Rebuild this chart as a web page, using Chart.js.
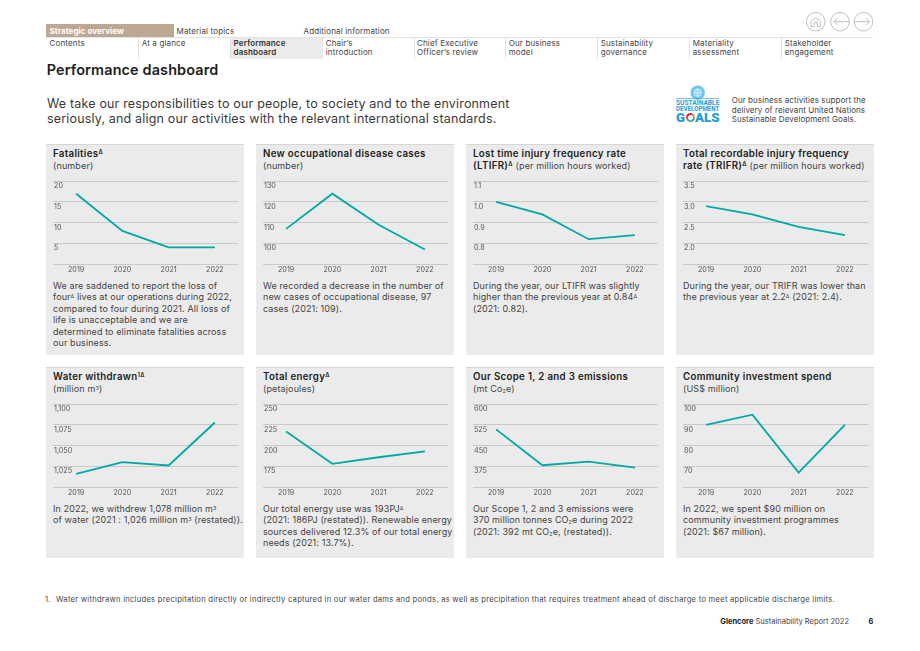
<!DOCTYPE html>
<html>
<head>
<meta charset="utf-8">
<title>Performance dashboard</title>
<script src="https://cdn.jsdelivr.net/npm/chart.js@4/dist/chart.umd.min.js"></script>
<style>
  html, body { margin: 0; padding: 0; background: #fff; }
  body { position: relative; width: 920px; height: 651px; overflow: hidden; font-family: Inter, "Open Sans", sans-serif; color: #333; }
  .t { position: absolute; white-space: nowrap; }
  sup { font-size: 60%; line-height: 0; vertical-align: 0.45em; }
  sub { font-size: 60%; line-height: 0; vertical-align: -0.2em; }

  /* navigation */
  .tab { font-size: 8px; line-height: 13px; top: 24.5px; letter-spacing: 0.15px; color: #444; }
  .nav { font-size: 8px; line-height: 9.6px; top: 38.5px; letter-spacing: 0.15px; color: #444; }
  .sep { position: absolute; top: 38px; width: 1px; height: 20.5px; background: #e2e2e2; }

  /* panels */
  .panel { position: absolute; width: 198px; background: #ebebeb; border-top: 1px solid #d6d6d6; box-sizing: border-box; }
  .r1 { top: 144px; height: 210.5px; }
  .r2 { top: 367px; height: 191px; }
  .head { position: absolute; left: 7px; top: 3px; font-size: 9.7px; line-height: 12.4px; color: #222; font-weight: 600; white-space: nowrap; letter-spacing: 0.32px; }
  .head span { font-weight: 400; font-size: 9px; color: #444; letter-spacing: 0.14px; }
  .body { position: absolute; left: 7px; font-size: 9px; line-height: 11.45px; white-space: nowrap; color: #444; letter-spacing: 0.1px; }
  .r1 .body { top: 135px; }
  .r2 .body { top: 135px; }
  canvas { position: absolute; }
</style>
</head>
<body>

<!-- top navigation -->
<div style="position:absolute;left:46px;top:24px;width:128px;height:13px;background:#bfa893"></div>
<div class="t tab" style="left:49.5px;color:#fff;font-weight:700;letter-spacing:0.05px">Strategic overview</div>
<div class="t tab" style="left:176.5px">Material topics</div>
<div class="t tab" style="left:303.5px">Additional information</div>
<div style="position:absolute;left:46px;top:37px;width:827px;height:1.3px;background:#e4e4e4"></div>
<div style="position:absolute;left:231px;top:38px;width:92px;height:20.5px;background:#ebebeb"></div>
<div class="sep" style="left:138px"></div>
<div class="sep" style="left:230px"></div>
<div class="sep" style="left:322px"></div>
<div class="sep" style="left:414px"></div>
<div class="sep" style="left:505px"></div>
<div class="sep" style="left:597px"></div>
<div class="sep" style="left:689px"></div>
<div class="sep" style="left:781px"></div>
<div class="t nav" style="left:49.5px">Contents</div>
<div class="t nav" style="left:141.7px">At a glance</div>
<div class="t nav" style="left:233.6px;font-weight:600;color:#333">Performance<br>dashboard</div>
<div class="t nav" style="left:325.7px">Chair’s<br>introduction</div>
<div class="t nav" style="left:417px">Chief Executive<br>Officer’s review</div>
<div class="t nav" style="left:508.7px">Our business<br>model</div>
<div class="t nav" style="left:600.7px">Sustainability<br>governance</div>
<div class="t nav" style="left:692.7px">Materiality<br>assessment</div>
<div class="t nav" style="left:784.7px">Stakeholder<br>engagement</div>

<!-- home / back / forward buttons -->
<svg style="position:absolute;left:800px;top:8px" width="80" height="28" fill="none" stroke="#b9b9b9" stroke-width="0.9">
  <circle cx="15.7" cy="13.7" r="9.3"/>
  <path d="M11 13.5 L15.7 9.5 L20.4 13.5 V18.5 H17.3 V14.5 H14.1 V18.5 H11 Z"/>
  <circle cx="40" cy="13.7" r="9.3"/>
  <path d="M34 13.7 H49 M37.8 9.9 L34 13.7 L37.8 17.5"/>
  <circle cx="63.5" cy="13.7" r="9.3"/>
  <path d="M54.5 13.7 H69.5 M65.7 9.9 L69.5 13.7 L65.7 17.5"/>
</svg>

<div class="t" style="left:46.7px;top:61px;font-size:14.4px;line-height:18px;font-weight:600;color:#1d1d1d;letter-spacing:0.15px">Performance dashboard</div>
<div class="t" style="left:47px;top:95.5px;font-size:12.5px;line-height:15px;color:#3a3a3a;letter-spacing:0.17px">We take our responsibilities to our people, to society and to the environment<br>seriously, and align our activities with the relevant international standards.</div>

<!-- SDG mark -->
<svg style="position:absolute;left:675px;top:85px" width="46" height="39">
  <circle cx="22.7" cy="7.7" r="7.2" fill="#6fc6ec"/>
  <g fill="none" stroke="#fff" stroke-width="0.6">
    <circle cx="22.7" cy="7.7" r="3.8"/>
    <ellipse cx="22.7" cy="7.7" rx="1.8" ry="3.8"/>
    <path d="M18.9 7.7 H26.5 M22.7 3.9 V11.5"/>
  </g>
  <rect x="1" y="13" width="43" height="0.6" fill="#1b9dd9"/>
  <text x="1" y="20.4" textLength="43.4" lengthAdjust="spacingAndGlyphs" font-family="Roboto" font-weight="700" font-size="6.8" fill="#1b9dd9">SUSTAINABLE</text>
  <text x="1" y="26.4" textLength="43.4" lengthAdjust="spacingAndGlyphs" font-family="Roboto" font-weight="700" font-size="6.8" fill="#1b9dd9">DEVELOPMENT</text>
  <text x="1" y="37.2" textLength="9" lengthAdjust="spacingAndGlyphs" font-family="Roboto" font-weight="900" font-size="13.5" fill="#1b9dd9">G</text>
  <text x="20" y="37.2" textLength="24.5" lengthAdjust="spacingAndGlyphs" font-family="Roboto" font-weight="900" font-size="13.5" fill="#1b9dd9">ALS</text>
</svg>
<div style="position:absolute;left:685.5px;top:112.5px;width:9.5px;height:9.5px;border-radius:50%;background:radial-gradient(#fff 0 38%,transparent 42%),conic-gradient(#e5243b,#dda63a,#4c9f38,#26bde2,#fd6925,#dd1367,#e5243b)"></div>
<div class="t" style="left:731.7px;top:96.2px;font-size:8px;line-height:9.5px;color:#444;letter-spacing:0.08px">Our business activities support the<br>delivery of relevant United Nations<br>Sustainable Development Goals.</div>

<!-- first row -->
<div class="panel r1" style="left:46px">
  <div class="head">Fatalities<sup>Δ</sup><br><span>(number)</span></div>
  <div class="body">We are saddened to report the loss of<br>four<sup>Δ</sup> lives at our operations during 2022,<br>compared to four during 2021. All loss of<br>life is unacceptable and we are<br>determined to eliminate fatalities across<br>our business.</div>
</div>
<div class="panel r1" style="left:256px">
  <div class="head">New occupational disease cases<br><span>(number)</span></div>
  <div class="body">We recorded a decrease in the number of<br>new cases of occupational disease, 97<br>cases (2021: 109).</div>
</div>
<div class="panel r1" style="left:466px">
  <div class="head">Lost time injury frequency rate<br>(LTIFR)<sup>Δ</sup> <span>(per million hours worked)</span></div>
  <div class="body">During the year, our LTIFR was slightly<br>higher than the previous year at 0.84<sup>Δ</sup><br>(2021: 0.82).</div>
</div>
<div class="panel r1" style="left:676px">
  <div class="head">Total recordable injury frequency<br>rate (TRIFR)<sup>Δ</sup> <span>(per million hours worked)</span></div>
  <div class="body">During the year, our TRIFR was lower than<br>the previous year at 2.2<sup>Δ</sup> (2021: 2.4).</div>
</div>

<!-- second row -->
<div class="panel r2" style="left:46px">
  <div class="head">Water withdrawn<sup>1Δ</sup><br><span>(million m<sup>3</sup>)</span></div>
  <div class="body">In 2022, we withdrew 1,078 million m<sup>3</sup><br>of water (2021 : 1,026 million m<sup>3</sup> (restated)).</div>
</div>
<div class="panel r2" style="left:256px">
  <div class="head">Total energy<sup>Δ</sup><br><span>(petajoules)</span></div>
  <div class="body">Our total energy use was 193PJ<sup>Δ</sup><br>(2021: 186PJ (restated)). Renewable energy<br>sources delivered 12.3% of our total energy<br>needs (2021: 13.7%).</div>
</div>
<div class="panel r2" style="left:466px">
  <div class="head">Our Scope 1, 2 and 3 emissions<br><span>(mt Co<sub>2</sub>e)</span></div>
  <div class="body">Our Scope 1, 2 and 3 emissions were<br>370 million tonnes CO<sub>2</sub>e during 2022<br>(2021: 392 mt CO<sub>2</sub>e, (restated)).</div>
</div>
<div class="panel r2" style="left:676px">
  <div class="head">Community investment spend<br><span>(US$ million)</span></div>
  <div class="body">In 2022, we spent $90 million on<br>community investment programmes<br>(2021: $67 million).</div>
</div>

<canvas id="fatalities" style="left:53px;top:176px"></canvas>
<canvas id="disease" style="left:263px;top:176px"></canvas>
<canvas id="ltifr" style="left:473px;top:176px"></canvas>
<canvas id="trifr" style="left:683px;top:176px"></canvas>
<canvas id="water" style="left:53px;top:399px"></canvas>
<canvas id="energy" style="left:263px;top:399px"></canvas>
<canvas id="emissions" style="left:473px;top:399px"></canvas>
<canvas id="community" style="left:683px;top:399px"></canvas>

<div class="t" style="left:45px;top:595px;font-size:7.6px;line-height:10px;color:#444">1.</div>
<div class="t" style="left:56px;top:595px;font-size:7.6px;line-height:10px;color:#444;letter-spacing:0.27px">Water withdrawn includes precipitation directly or indirectly captured in our water dams and ponds, as well as precipitation that requires treatment ahead of discharge to meet applicable discharge limits.</div>
<div class="t" style="right:71px;top:616.5px;font-size:7.5px;line-height:10px;color:#444"><b style="color:#222;font-weight:700">Glencore</b> Sustainability Report 2022</div>
<div class="t" style="left:868.5px;top:616.5px;font-size:7.5px;line-height:10px;font-weight:700;color:#222">6</div>

<script>
const years = ['2019', '2020', '2021', '2022'];

const fatalities = [17, 8, 4, 4];
const disease = [107, 124, 109, 97];
const ltifr = [1.0, 0.94, 0.82, 0.84];
const trifr = [2.9, 2.7, 2.4, 2.2];
const water = [1016, 1030, 1026, 1078];
const energy = [217, 178, 186, 193];
const emissions = [509, 379, 392, 370];
const community = [90, 95, 67, 90];

// bottom line of each axis carries no label
const fatalitiesTicks = [0, 5, 10, 15, 20];
const diseaseTicks = [90, 100, 110, 120, 130];
const ltifrTicks = [0.7, 0.8, 0.9, 1.0, 1.1];
const trifrTicks = [1.5, 2.0, 2.5, 3.0, 3.5];
const waterTicks = [1000, 1025, 1050, 1075, 1100];
const energyTicks = [150, 175, 200, 225, 250];
const emissionsTicks = [300, 375, 450, 525, 600];
const communityTicks = [60, 70, 80, 90, 100];

const fatalitiesLabels = ['', '5', '10', '15', '20'];
const diseaseLabels = ['', '100', '110', '120', '130'];
const ltifrLabels = ['', '0.8', '0.9', '1.0', '1.1'];
const trifrLabels = ['', '2.0', '2.5', '3.0', '3.5'];
const waterLabels = ['', '1,025', '1,050', '1,075', '1,100'];
const energyLabels = ['', '175', '200', '225', '250'];
const emissionsLabels = ['', '375', '450', '525', '600'];
const communityLabels = ['', '70', '80', '90', '100'];

const tickFont = { family: 'Inter', size: 7.2 };
const tickColor = '#555';

function lineChart(id, values, ticks, labels) {
  const canvas = document.getElementById(id);
  canvas.width = 185;
  canvas.height = 100;
  canvas.style.width = '185px';
  canvas.style.height = '100px';

  new Chart(canvas, {
    type: 'line',
    data: {
      labels: years,
      datasets: [{
        data: values,
        borderColor: '#00a9a5',
        borderWidth: 1.8,
        tension: 0,
        pointRadius: 0,
        borderCapStyle: 'butt',
        borderJoinStyle: 'miter',
        fill: false
      }]
    },
    options: {
      responsive: false,
      animation: false,
      devicePixelRatio: 1,
      layout: { autoPadding: false, padding: { top: 5, left: 0, right: 0, bottom: 0 } },
      plugins: { legend: { display: false }, tooltip: { enabled: false }, title: { display: false } },
      scales: {
        x: {
          offset: true,
          grid: { display: false, drawTicks: false },
          border: { display: false },
          ticks: { font: tickFont, color: tickColor, padding: 1.5, maxRotation: 0 },
          afterFit: (scale) => { scale.height = 12; }
        },
        y: {
          min: ticks[0],
          max: ticks[ticks.length - 1],
          grid: { color: '#c9c9c9', lineWidth: 1, drawTicks: false },
          border: { display: false },
          afterBuildTicks: (scale) => { scale.ticks = ticks.map((v) => ({ value: v })); },
          afterFit: (scale) => { scale.width = 0; },
          ticks: {
            mirror: true,
            padding: 1,
            labelOffset: 5,
            autoSkip: false,
            font: tickFont,
            color: tickColor,
            callback: (value, index) => labels[index]
          }
        }
      }
    }
  });
}

lineChart('fatalities', fatalities, fatalitiesTicks, fatalitiesLabels);
lineChart('disease', disease, diseaseTicks, diseaseLabels);
lineChart('ltifr', ltifr, ltifrTicks, ltifrLabels);
lineChart('trifr', trifr, trifrTicks, trifrLabels);
lineChart('water', water, waterTicks, waterLabels);
lineChart('energy', energy, energyTicks, energyLabels);
lineChart('emissions', emissions, emissionsTicks, emissionsLabels);
lineChart('community', community, communityTicks, communityLabels);
</script>
</body>
</html>
